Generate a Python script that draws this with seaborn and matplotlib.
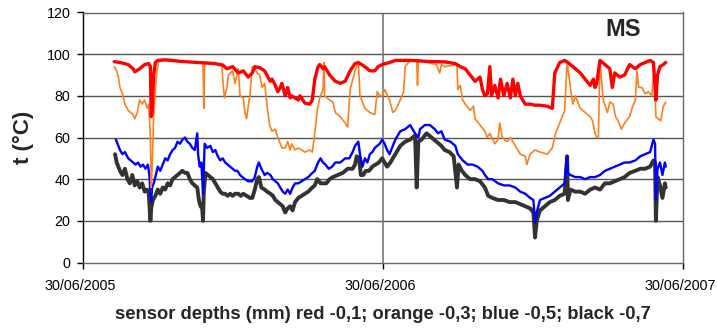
import numpy as np
import pandas as pd
import matplotlib
matplotlib.use("Agg")
import matplotlib.pyplot as plt
import matplotlib.dates as mdates
import matplotlib.transforms as mtransforms
import seaborn as sns

START = "2005-06-30"

# days since 30/06/2005 and temperature values
red_days = [38, 45, 55, 61, 63, 69, 75, 80, 82, 83, 84, 86, 88, 91, 100, 120, 140, 160, 167, 170, 175, 182,
            189, 195, 201, 206, 209, 215, 221, 225, 228, 230, 234, 237, 240, 242, 246, 249, 252, 254, 258,
            262, 264, 270, 276, 279, 282, 286, 288, 292, 294, 300, 307, 313, 319, 325, 331, 335, 343, 349,
            355, 359, 364, 373, 380, 400, 420, 440, 453, 459, 465, 471, 477, 483, 486, 489, 492, 495, 497,
            501, 505, 508, 512, 516, 520, 523, 526, 529, 532, 538, 544, 550, 556, 565, 571, 574, 580, 586,
            590, 596, 605, 611, 617, 621, 623, 625, 629, 635, 641, 644, 647, 653, 659, 665, 672, 678, 684,
            690, 694, 697, 699, 702, 706, 709]
red_vals = [96.4, 96, 95, 93, 91.5, 93, 95, 95.5, 94, 70, 72, 90, 96, 97, 97.3, 96.5, 96, 95.5, 95, 94.8, 93,
            94, 91, 92, 89, 91, 94, 93.5, 92, 89, 87, 88, 85, 82, 84, 86, 80, 84, 79, 80, 79,
            78, 80, 76.5, 76, 78, 88, 94, 95, 93, 94, 90, 87, 86, 87, 92, 95.5, 96, 94, 92,
            92, 94, 95, 96, 97, 97, 96.5, 96.3, 95.5, 94, 93, 90, 87, 89, 83, 80, 81, 94, 80,
            85, 79, 88, 80, 86, 79, 88, 80, 86, 80, 76, 76, 75.5, 75.5, 75, 74, 91, 96, 97,
            96, 94, 91, 88, 85, 88, 84, 86, 97, 95, 93, 84, 91, 89, 90, 95, 93, 95, 96,
            97, 96, 78, 90, 94, 95, 96]

orange_days = [38, 41, 43, 45, 48, 51, 55, 58, 61, 63, 66, 69, 72, 75, 78, 80, 82, 83, 84, 86, 88, 90, 92,
               100, 140, 146, 147, 148, 160, 169, 170, 172, 175, 177, 182, 185, 189, 191, 195, 197, 199,
               201, 203, 206, 209, 212, 215, 218, 221, 224, 227, 230, 234, 237, 240, 242, 246, 249, 252,
               254, 258, 262, 266, 270, 276, 279, 282, 285, 288, 292, 293, 294, 300, 304, 307, 313, 319,
               322, 325, 331, 335, 337, 343, 349, 355, 358, 361, 364, 367, 373, 377, 380, 386, 390, 392,
               396, 400, 406, 407, 408, 430, 434, 436, 440, 455, 456, 459, 462, 465, 471, 475, 477, 483,
               489, 492, 495, 501, 505, 507, 510, 516, 520, 526, 529, 532, 538, 540, 544, 550, 556, 565,
               571, 575, 580, 583, 586, 589, 593, 596, 599, 605, 611, 617, 620, 623, 625, 627, 629, 633,
               638, 641, 645, 648, 651, 655, 659, 665, 668, 672, 674, 676, 680, 684, 688, 692, 695, 697,
               700, 703, 706, 709]
orange_vals = [94, 92, 89, 84, 81, 76, 73, 72, 71, 69, 72, 78, 76, 78, 74, 76, 60, 36, 45, 70, 83, 92, 96.5,
               97, 96, 96, 74, 96, 95.5, 95, 88, 79, 84, 90, 92, 86, 93, 80, 79, 72, 69,
               75, 80, 94, 93, 91, 90, 84, 86, 75, 66, 63, 64, 60, 57, 55, 55, 58, 54,
               57, 54, 55, 54, 53, 54, 53, 62, 73, 79, 83, 96, 80, 78, 77, 72, 70, 67,
               65, 83, 92, 96, 80, 74, 72, 71, 82, 80, 80, 83, 78, 72, 73, 78, 82, 94,
               96, 97, 97, 85, 97, 95, 91, 95, 94, 95, 83, 85, 78, 76, 73, 75, 69, 66,
               63, 60, 62, 57, 59, 67, 60, 58, 60, 56, 54, 52, 51, 47, 52, 54, 53, 52,
               55, 62, 67, 70, 73, 96, 84, 76, 80, 74, 72, 70, 68, 62, 60, 60, 97, 78,
               72, 77, 76, 70, 68, 64, 67, 70, 74, 78, 92, 84, 84, 81, 82, 80, 94, 70,
               69, 68, 75, 77]

blue_days = [40, 42, 45, 48, 51, 55, 58, 61, 64, 67, 70, 73, 76, 79, 81, 82, 83, 84, 86, 88, 91, 94, 97,
             100, 103, 106, 109, 112, 115, 118, 121, 124, 127, 130, 133, 136, 139, 140, 142, 144, 146,
             147, 148, 151, 155, 158, 161, 164, 167, 170, 173, 176, 179, 182, 185, 188, 191, 194, 197,
             201, 206, 209, 212, 214, 217, 221, 224, 228, 231, 234, 237, 240, 243, 246, 249, 252, 255,
             258, 262, 266, 270, 274, 279, 282, 286, 289, 292, 295, 299, 303, 307, 313, 319, 324, 328,
             331, 335, 337, 340, 343, 346, 349, 352, 355, 358, 361, 364, 367, 370, 373, 377, 380, 386,
             392, 398, 404, 408, 410, 416, 422, 428, 432, 436, 440, 447, 453, 456, 462, 468, 474, 480,
             486, 489, 493, 498, 505, 512, 519, 526, 532, 538, 544, 548, 550, 552, 556, 562, 568, 574,
             580, 586, 589, 590, 593, 599, 605, 611, 617, 623, 629, 635, 641, 647, 653, 659, 665, 672,
             678, 684, 690, 694, 696, 697, 699, 702, 705, 708, 709]
blue_vals = [59, 57, 54, 52, 53, 50, 49, 48, 47, 48, 46, 47, 45, 47, 41, 33, 29, 36, 38, 41, 46, 44, 47,
             50, 49, 52, 54, 55, 58, 57, 59, 60, 58, 57, 55, 54, 62, 52, 46, 48, 33,
             45, 57, 55, 56, 53, 54, 51, 49, 50, 48, 47, 46, 45, 44, 44, 42, 41, 40,
             39, 39, 41, 46, 48, 45, 42, 43, 42, 40, 39, 38, 36, 34, 33, 35, 33, 36,
             38, 38, 39, 40, 41, 43, 44, 48, 50, 48, 47, 45, 46, 48, 48, 50, 50, 53,
             56, 58, 52, 46, 50, 48, 52, 53, 55, 56, 57, 59, 57, 54, 52, 56, 59, 63,
             64, 66, 62, 60, 64, 66, 66, 64, 62, 63, 59, 58, 56, 52, 49, 47, 47, 46,
             44, 42, 40, 40, 38, 37, 37, 36, 34, 33, 31, 30, 19, 24, 30, 31, 32, 34,
             36, 38, 51, 43, 42, 41, 41, 40, 41, 41, 42, 44, 45, 46, 47, 48, 48, 49,
             51, 52, 53, 59, 57, 30, 45, 48, 42, 48, 46]

black_days = [39, 41, 43, 45, 48, 51, 54, 57, 60, 63, 66, 69, 72, 75, 78, 80, 82, 83, 85, 88, 91, 94, 97,
              100, 103, 106, 109, 112, 115, 118, 121, 124, 127, 130, 133, 136, 139, 141, 143, 145, 146,
              147, 149, 152, 155, 158, 161, 164, 167, 170, 173, 176, 179, 182, 185, 189, 192, 195, 199,
              203, 206, 209, 212, 214, 217, 221, 224, 228, 231, 234, 237, 240, 243, 246, 249, 252, 255,
              258, 262, 266, 270, 274, 279, 282, 285, 289, 292, 296, 300, 304, 310, 316, 322, 328, 331,
              333, 336, 338, 341, 344, 348, 352, 356, 360, 364, 367, 370, 374, 380, 386, 392, 398, 404,
              406, 408, 412, 418, 424, 430, 436, 440, 446, 451, 455, 457, 461, 465, 471, 477, 483, 489,
              493, 498, 505, 512, 519, 526, 532, 538, 544, 548, 550, 552, 556, 562, 568, 574, 580, 586,
              589, 590, 593, 599, 605, 611, 617, 623, 629, 635, 641, 647, 653, 659, 665, 672, 678, 684,
              690, 694, 696, 697, 699, 702, 705, 708, 709]
black_vals = [52, 48, 46, 44, 42, 45, 40, 38, 42, 37, 39, 36, 38, 34, 35, 33, 20, 26, 30, 32, 35, 33, 36,
              35, 38, 37, 40, 41, 42, 43, 44, 43, 43, 40, 38, 37, 36, 30, 27, 26, 20,
              34, 43, 42, 41, 40, 38, 36, 34, 33, 33, 32, 33, 32, 33, 33, 32, 33, 32,
              31, 31, 35, 40, 41, 36, 35, 34, 33, 32, 30, 29, 28, 27, 24, 26, 27, 25,
              29, 31, 32, 33, 34, 36, 37, 40, 38, 38, 38, 40, 41, 42, 43, 45, 45, 47,
              51, 50, 42, 42, 44, 44, 46, 47, 48, 50, 48, 46, 48, 52, 56, 58, 59, 61,
              36, 58, 59, 62, 60, 58, 56, 54, 53, 51, 36, 47, 44, 42, 40, 40, 39, 36,
              32, 31, 30, 30, 29, 29, 28, 27, 26, 24, 12, 20, 25, 27, 29, 30, 32, 33,
              51, 30, 35, 34, 34, 33, 35, 36, 35, 38, 38, 39, 40, 41, 43, 44, 45, 45,
              46, 49, 48, 20, 41, 37, 31, 38, 36]

y_ticks = [0, 20, 40, 60, 80, 100, 120]
x_tick_dates = ["2005-06-30", "2006-06-30", "2007-06-30"]

series = [
    ("black", black_days, black_vals, "#333333", 2.8),
    ("blue", blue_days, blue_vals, "#0000FF", 1.7),
    ("orange", orange_days, orange_vals, "#FF7F1E", 1.2),
    ("red", red_days, red_vals, "#FF0000", 2.4),
]

sns.set_style("white")
plt.rcParams["font.family"] = ["Liberation Sans", "DejaVu Sans"]

fig = plt.figure(figsize=(7.17, 3.29), dpi=100)
ax = fig.add_axes([83 / 717, 1 - 262.5 / 329, 600 / 717, 250 / 329])

start = pd.Timestamp(START)
for i, (name, d, v, c, lw) in enumerate(series):
    df = pd.DataFrame({"date": start + pd.to_timedelta(d, unit="D"), "t": v})
    sns.lineplot(data=df, x="date", y="t", ax=ax, color=c, linewidth=lw,
                 estimator=None, sort=False, zorder=3 + i)

ax.set_xlim(pd.Timestamp(x_tick_dates[0]), pd.Timestamp(x_tick_dates[-1]))
ax.set_ylim(0, 120)
ax.set_yticks(y_ticks)
ax.set_xticks([pd.Timestamp(s) for s in x_tick_dates])
ax.xaxis.set_major_formatter(mdates.DateFormatter("%d/%m/%Y"))

for yv in y_ticks[1:]:
    ax.axhline(yv, color="#555555", linewidth=1.0, zorder=1)
ax.axvline(pd.Timestamp(x_tick_dates[1]), color="#777777", linewidth=1.2, zorder=1)

for side in ["top", "right", "bottom"]:
    ax.spines[side].set_color("#666666")
    ax.spines[side].set_linewidth(1.0)
ax.spines["left"].set_color("black")
ax.spines["left"].set_linewidth(1.0)

ax.tick_params(axis="both", direction="out", length=4, width=1, color="black",
               labelsize=10.3, colors="black")
ax.tick_params(axis="x", pad=8, bottom=True)
ax.tick_params(axis="y", pad=5, left=True)

shift = mtransforms.ScaledTranslation(-3 / 100, 0, fig.dpi_scale_trans)
for lbl in ax.get_xticklabels():
    lbl.set_transform(lbl.get_transform() + shift)

ax.set_ylabel("t (°C)", fontsize=16, fontweight="bold", labelpad=9)
ax.set_xlabel("sensor depths (mm) red -0,1; orange -0,3; blue -0,5; black -0,7",
              fontsize=13.2, fontweight="bold", labelpad=9)
ax.text(0.9, 0.934, "MS", transform=ax.transAxes, fontsize=17, fontweight="bold",
        ha="center", va="center")

fig.savefig("out.png", dpi=100)
